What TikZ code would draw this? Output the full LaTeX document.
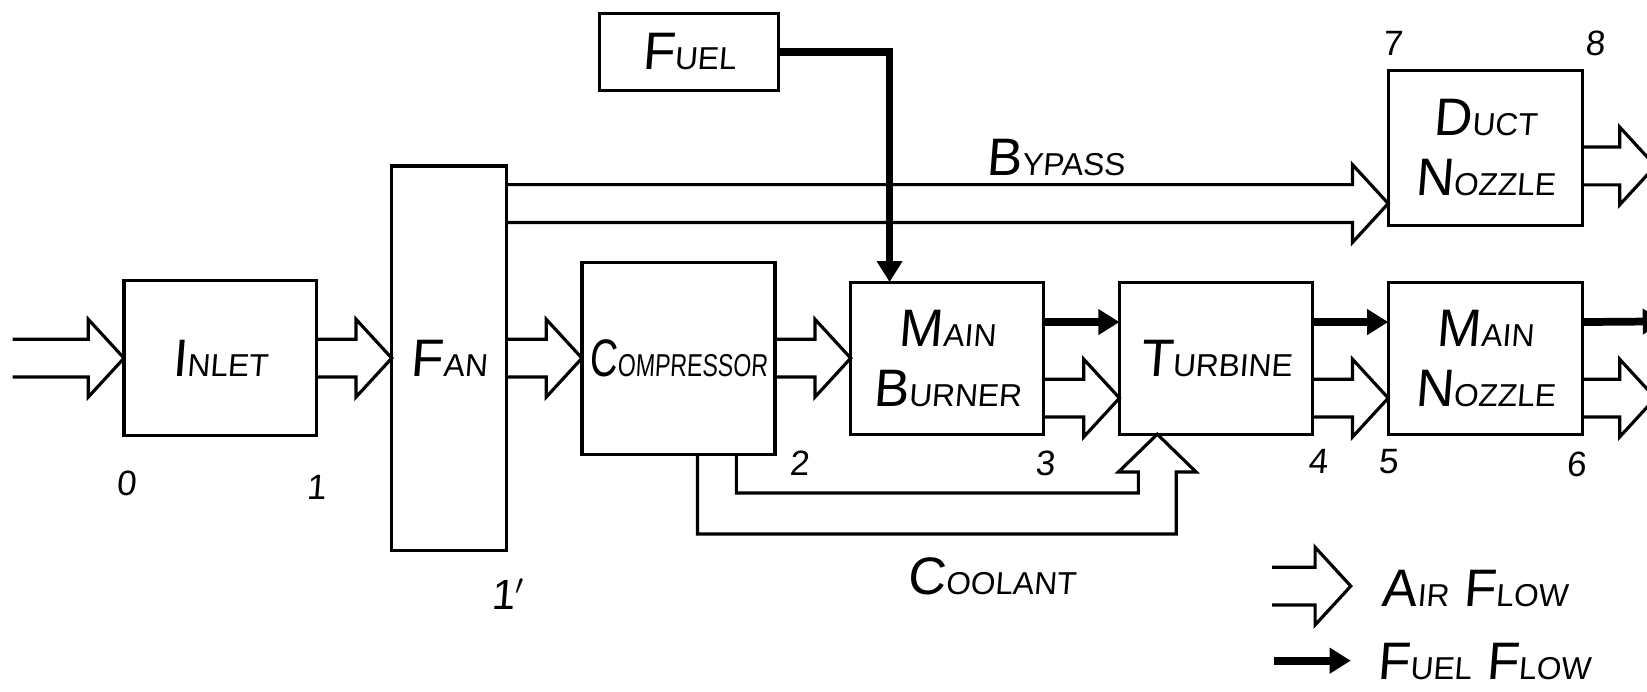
\documentclass[tikz,border=0pt]{standalone}
\usepackage{fontspec}
\usepackage{graphicx}
\newfontfamily\hand[FakeSlant=0.08]{Liberation Sans}
\usetikzlibrary{positioning,calc,arrows.meta}
\newcommand{\hs}[2]{{\fontsize{15}{17}\selectfont #1}{\fontsize{9}{11}\selectfont #2}}
\newcommand{\airflow}[3]{%
  \path ($(#2)+(0,#3)$) coordinate (tip) (#1 |- tip) coordinate (tail);
  \draw[airline] ($(tail)+(0,-18)$) -- ($(tip)+(-34,-18)$) -- ++(0,-19)
    -- (tip) -- ($(tip)+(-34,37)$) -- ++(0,-19) -- ($(tail)+(0,18)$);}

\begin{document}
\begin{tikzpicture}[
    x=0.0105cm, y=-0.0105cm,
    box/.style={draw, line width=0.9pt, inner sep=0pt, outer sep=0pt, align=center, font=\hand\fontsize{15}{17}\selectfont},
    num/.style={font=\hand\fontsize{10}{12}\selectfont, inner sep=0pt},
    tag/.style={font=\hand\fontsize{15}{17}\selectfont, inner sep=0pt},
    airline/.style={line width=0.9pt, line join=miter},
    fuelline/.style={line width=2.2pt, line join=miter, -{Triangle[width=7pt,length=6pt]}},
    node distance=0.756cm
  ]
    \clip (0,0) rectangle (1568,658);

    \node[box, minimum width=1.92cm, minimum height=1.55cm] (inlet) at (209.5,341) {\hs{I}{NLET}};
    \node[box, minimum width=1.145cm, minimum height=3.84cm, right=of inlet] (fan) {\hs{F}{AN}};
    \node[box, minimum width=1.93cm, minimum height=1.92cm, right=of fan] (comp) {\scalebox{0.73}[1]{\hs{C}{OMPRESSOR}}};
    \node[box, minimum width=1.93cm, minimum height=1.52cm, right=of comp] (burner) {\hs{M}{AIN}\\\hs{B}{URNER}};
    \node[box, minimum width=1.93cm, minimum height=1.52cm, right=of burner] (turbine) {\hs{T}{URBINE}};
    \node[box, minimum width=1.94cm, minimum height=1.52cm, right=of turbine] (mainnoz) {\hs{M}{AIN}\\\hs{N}{OZZLE}};
    \node[box, minimum width=1.94cm, minimum height=1.55cm, above=0.567cm of mainnoz] (ductnoz) {\hs{D}{UCT}\\\hs{N}{OZZLE}};
    \node[box, minimum width=1.785cm, minimum height=0.767cm] (fuel) at (656,49.5) {\hs{F}{UEL}};

    \node[num] (s0) at ($(inlet.south west)+(2,45)$) {0};
    \node[num] (s1) at ($(inlet.south east)+(0,49)$) {1};
    \node[num, font=\hand\fontsize{12}{14}\selectfont] (s1p) at ($(fan.south east)+(2,42)$) {1$'$};
    \node[num] (s2) at ($(comp.south east)+(23,9)$) {2};
    \node[num] (s3) at ($(burner.south east)+(1,28)$) {3};
    \node[num] (s4) at ($(turbine.south east)+(5,26)$) {4};
    \node[num] (s5) at ($(mainnoz.south west)+(0,26)$) {5};
    \node[num] (s6) at ($(mainnoz.south east)+(-6,29)$) {6};
    \node[num] (s7) at ($(ductnoz.north west)+(4,-26)$) {7};
    \node[num] (s8) at ($(ductnoz.north east)+(12,-26)$) {8};

    \coordinate (intake) at (12,341);
    \coordinate (ductexit) at (1576,158);
    \coordinate (airexit) at (1576,379);
    \coordinate (fuelexit) at (1584,306);

    \airflow{intake}{inlet.west}{0}
    \airflow{inlet.east}{fan.west}{0}
    \airflow{fan.east}{comp.west}{0}
    \airflow{comp.east}{burner.west}{0}
    \airflow{burner.east}{turbine.west}{38}
    \airflow{turbine.east}{mainnoz.west}{38}
    \airflow{mainnoz.east}{airexit}{0}
    \airflow{fan.east}{ductnoz.west}{53}
    \airflow{ductnoz.east}{ductexit}{0}

    \draw[fuelline] (fuel.east) -| ($(burner.north west)+(37,0)$);
    \draw[fuelline] ($(burner.north east)+(0,38)$) -- ($(turbine.north west)+(0,38)$);
    \draw[fuelline] ($(turbine.north east)+(0,38)$) -- ($(mainnoz.north west)+(0,38)$);
    \draw[fuelline] ($(mainnoz.north east)+(0,38)$) -- (fuelexit);

    % coolant bleed from compressor to turbine
    \coordinate (cooltip) at ($(turbine.south west)+(36,0)$);
    \draw[airline] ($(comp.south west)+(147,0)$) |- ($(cooltip)+(-18,56)$) -- ($(cooltip)+(-18,36)$)
      -- ($(cooltip)+(-37,36)$) -- (cooltip) -- ($(cooltip)+(37,36)$) -- ($(cooltip)+(18,36)$)
      -- ($(cooltip)+(18,95)$) -| ($(comp.south west)+(110,0)$);

    \node[tag] (bypass) at (1005,150) {\hs{B}{YPASS}};
    \node[tag] (coolant) at (944,549) {\hs{C}{OOLANT}};

    \coordinate (keyair) at (1211,558);
    \coordinate (keyairtip) at (1286,558);
    \airflow{keyair}{keyairtip}{0}
    \node[tag, anchor=west] (airkey) at (1315,560) {\hs{A}{IR} \hs{F}{LOW}};
    \coordinate (keyfuel) at (1213,629);
    \coordinate (keyfueltip) at (1286,629);
    \draw[fuelline] (keyfuel) -- (keyfueltip);
    \node[tag, anchor=west] (fuelkey) at (1311,630) {\hs{F}{UEL} \hs{F}{LOW}};
\end{tikzpicture}
\end{document}
